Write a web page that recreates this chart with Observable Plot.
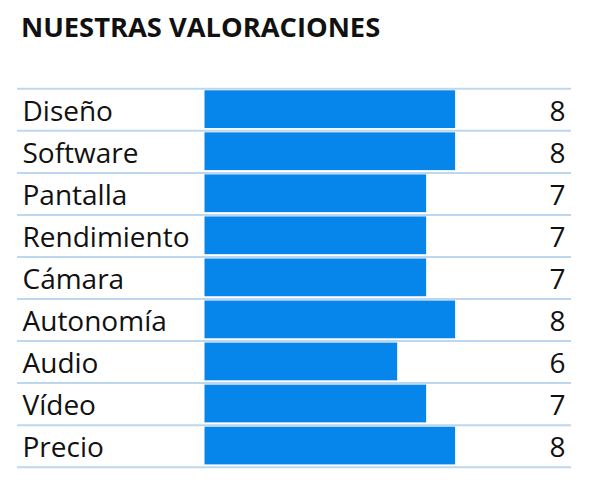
<!DOCTYPE html>
<html>
<head>
<meta charset="utf-8">
<script src="https://cdn.jsdelivr.net/npm/d3@7"></script>
<script src="https://cdn.jsdelivr.net/npm/@observablehq/plot@0.6"></script>
<style>
  html, body { margin: 0; padding: 0; background: #fff; }
  #title { height: 60px; box-sizing: border-box; padding: 8px 0 0 21px; font-family: "Open Sans", sans-serif; font-weight: 700; font-size: 27.3px; color: #111; letter-spacing: 0; }
  svg { display: block; }
</style>
</head>
<body>
<div id="title">NUESTRAS VALORACIONES</div>
<div id="chart"></div>
<script>
const categories = ["Diseño", "Software", "Pantalla", "Rendimiento", "Cámara", "Autonomía", "Audio", "Vídeo", "Precio"];
const scores = [8, 8, 7, 7, 7, 8, 6, 7, 8];
const xDomain = [-0.65, 12];

const rows = categories.map((name, i) => ({name, score: scores[i], i}));
const boundaries = d3.range(categories.length + 1);

const chart = Plot.plot({
  width: 597,
  height: 423,
  marginLeft: 17,
  marginRight: 26,
  marginTop: 28.3,
  marginBottom: 16.3,
  style: {fontFamily: "Open Sans, sans-serif", background: "#fff"},
  x: {domain: xDomain, range: [204.5, 571], axis: null},
  y: {domain: [0, categories.length], reverse: true, axis: null},
  marks: [
    Plot.rect(rows, {x1: xDomain[0], x2: "score", y1: "i", y2: d => d.i + 1, insetTop: 2, insetBottom: 2.3, fill: "#0685ea"}),
    Plot.ruleY(boundaries, {stroke: "#bdd7ee", strokeWidth: 2}),
    Plot.text(rows, {y: d => d.i + 0.5, text: "name", frameAnchor: "left", dx: 5, dy: 2, textAnchor: "start", fontSize: 28, fill: "#111"}),
    Plot.text(rows, {y: d => d.i + 0.5, text: "score", frameAnchor: "right", dx: -6, dy: 2, textAnchor: "end", fontSize: 28, fill: "#111"})
  ]
});
document.getElementById("chart").append(chart);
</script>
</body>
</html>
